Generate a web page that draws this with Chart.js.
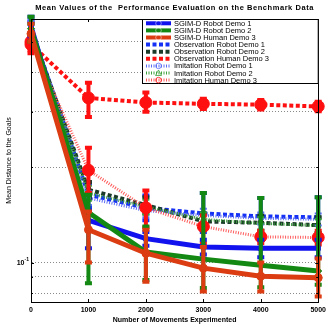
<!DOCTYPE html>
<html>
<head>
<meta charset="utf-8">
<script src="https://cdn.jsdelivr.net/npm/chart.js@4.4.0/dist/chart.umd.min.js"></script>
<style>
  html, body { margin: 0; padding: 0; background: #fff; }
  #wrap { width: 330px; height: 326px; }
</style>
</head>
<body>
<div id="wrap"><canvas id="myChart" width="330" height="326"></canvas></div>
<script>
// x positions (number of movements)
const movements = [0, 1000, 2000, 3000, 4000, 5000];

const seriesNames = [
  "SGIM-D Robot Demo 1", "SGIM-D Robot Demo 2", "SGIM-D Human Demo 3",
  "Observation Robot Demo 1", "Observation Robot Demo 2", "Observation Human Demo 3",
  "Imitation Robot Demo 1", "Imitation Robot Demo 2", "Imitation Human Demo 3"
];

// mean distance to goals, with lower / upper ends of the error bars
const sgimRobot1     = [0.56, 0.136, 0.119, 0.112, 0.111, 0.111];
const sgimRobot1Low  = [0.52, 0.111, 0.113, 0.106, 0.104, 0.104];
const sgimRobot1High = [0.60, 0.146, 0.125, 0.118, 0.118, 0.118];

const sgimRobot2     = [0.55, 0.144, 0.108, 0.1025, 0.098, 0.094];
const sgimRobot2Low  = [0.50, 0.086, 0.088, 0.083, 0.0835, 0.085];
const sgimRobot2High = [0.60, 0.164, 0.130, 0.166, 0.160, 0.161];

const sgimHuman3     = [0.53, 0.127, 0.107, 0.096, 0.0905, 0.0895];
const sgimHuman3Low  = [0.50, 0.100, 0.087, 0.081, 0.081, 0.078];
const sgimHuman3High = [0.57, 0.145, 0.127, 0.112, 0.100, 0.103];

const obsRobot1     = [0.55, 0.164, 0.149, 0.143, 0.140, 0.139];
const obsRobot1Low  = [0.52, 0.150, 0.136, 0.125, 0.123, 0.122];
const obsRobot1High = [0.58, 0.178, 0.163, 0.166, 0.160, 0.161];

const obsRobot2     = [0.54, 0.170, 0.152, 0.135, 0.1336, 0.1313];
const obsRobot2Low  = [0.51, 0.160, 0.143, 0.127, 0.126, 0.124];
const obsRobot2High = [0.57, 0.180, 0.161, 0.143, 0.141, 0.139];

const obsHuman3     = [0.49, 0.332, 0.321, 0.318, 0.316, 0.312];
const obsHuman3Low  = [0.46, 0.289, 0.300, 0.306, 0.305, 0.301];
const obsHuman3High = [0.52, 0.371, 0.345, 0.330, 0.327, 0.323];

const imitRobot1     = [0.55, 0.160, 0.146, 0.141, 0.138, 0.137];
const imitRobot1Low  = [0.52, 0.152, 0.139, 0.134, 0.132, 0.131];
const imitRobot1High = [0.58, 0.168, 0.153, 0.148, 0.144, 0.143];

const imitRobot2     = [0.54, 0.166, 0.150, 0.137, 0.133, 0.131];
const imitRobot2Low  = [0.51, 0.157, 0.142, 0.130, 0.127, 0.125];
const imitRobot2High = [0.57, 0.175, 0.158, 0.144, 0.139, 0.137];

const imitHuman3     = [0.50, 0.196, 0.149, 0.130, 0.1206, 0.120];
const imitHuman3Low  = [0.47, 0.166, 0.129, 0.115, 0.115, 0.114];
const imitHuman3High = [0.53, 0.231, 0.169, 0.141, 0.126, 0.126];

const yGridValues = [0.08, 0.09, 0.1, 0.2, 0.3, 0.4, 0.5];
const xTickValues = [0, 1000, 2000, 3000, 4000, 5000];

// styles only (order: lower = drawn later, on top)
const styles = [
  { color: "#1212ee", width: 5, dash: [], point: "rect", r: 3, ebw: 4, order: 3 },
  { color: "#138813", width: 5, dash: [], point: "rectRot", r: 3.5, ebw: 4, order: 2 },
  { color: "#dc3c12", width: 5, dash: [], point: "circle", r: 4, ebw: 4, order: 1 },
  { color: "#1530f5", width: 4, dash: [4, 2.5], point: "rect", r: 3, ebw: 4, order: 9 },
  { color: "#1b3a29", width: 4, dash: [4, 2.5], point: "rect", r: 3, ebw: 4, order: 8 },
  { color: "#ff1010", width: 4, dash: [4, 2.5], point: "circle", r: 6, ebw: 4, order: 7 },
  { color: "#5a6cf5", width: 3, dash: [1, 1.5], point: "circle", r: 2, ebw: 2, order: 6 },
  { color: "#3fa23f", width: 3, dash: [1, 1.5], point: "triangle", r: 2.5, ebw: 2, order: 5 },
  { color: "#ff5a5a", width: 3, dash: [1, 1.5], point: "circle", r: 6, ebw: 4, order: 4, pointColor: "#ff1010" }
];

const means = [sgimRobot1, sgimRobot2, sgimHuman3, obsRobot1, obsRobot2, obsHuman3, imitRobot1, imitRobot2, imitHuman3];
const lows = [sgimRobot1Low, sgimRobot2Low, sgimHuman3Low, obsRobot1Low, obsRobot2Low, obsHuman3Low, imitRobot1Low, imitRobot2Low, imitHuman3Low];
const highs = [sgimRobot1High, sgimRobot2High, sgimHuman3High, obsRobot1High, obsRobot2High, obsHuman3High, imitRobot1High, imitRobot2High, imitHuman3High];

const datasets = seriesNames.map((name, i) => {
  const s = styles[i];
  return {
    label: name,
    data: movements.map((m, k) => ({ x: m, y: means[i][k] })),
    errLow: lows[i],
    errHigh: highs[i],
    borderColor: s.color,
    backgroundColor: s.pointColor || s.color,
    pointBorderColor: s.pointColor || s.color,
    borderWidth: s.width,
    borderDash: s.dash,
    borderCapStyle: "butt",
    pointStyle: s.point,
    pointRadius: s.r,
    pointBorderWidth: 1,
    ebWidth: s.ebw,
    tension: 0,
    clip: false,
    order: s.order
  };
});

const FONT = "Arial, 'Liberation Sans', sans-serif";

const matlabLook = {
  id: "matlabLook",
  beforeDraw(chart) {
    const c = chart.ctx;
    c.save();
    c.fillStyle = "#fff";
    c.fillRect(0, 0, chart.width, chart.height);
    c.restore();
  },
  afterDatasetDraw(chart, args) {
    // error bars for this series
    const ds = chart.data.datasets[args.index];
    const xs = chart.scales.x, ys = chart.scales.y;
    const c = chart.ctx;
    c.save();
    c.strokeStyle = ds.pointBorderColor;
    c.lineWidth = ds.ebWidth;
    c.setLineDash([]);
    ds.data.forEach((p, k) => {
      const px = xs.getPixelForValue(p.x);
      const y1 = ys.getPixelForValue(ds.errLow[k]);
      const y2 = ys.getPixelForValue(ds.errHigh[k]);
      c.beginPath();
      c.moveTo(px, y1); c.lineTo(px, y2);
      c.moveTo(px - 3.5, y1); c.lineTo(px + 3.5, y1);
      c.moveTo(px - 3.5, y2); c.lineTo(px + 3.5, y2);
      c.stroke();
    });
    c.restore();
  },
  afterDraw(chart) {
    const c = chart.ctx;
    const a = chart.chartArea;
    const xs = chart.scales.x, ys = chart.scales.y;
    c.save();
    // box
    c.strokeStyle = "#000";
    c.lineWidth = 1;
    c.setLineDash([]);
    c.strokeRect(Math.round(a.left) + 0.5, Math.round(a.top) + 0.5, Math.round(a.right - a.left), Math.round(a.bottom - a.top));
    // inward ticks
    c.beginPath();
    xTickValues.forEach(v => {
      const px = Math.round(xs.getPixelForValue(v)) + 0.5;
      c.moveTo(px, a.bottom); c.lineTo(px, a.bottom - 3);
      c.moveTo(px, a.top); c.lineTo(px, a.top + 3);
    });
    yGridValues.forEach(v => {
      const py = Math.round(ys.getPixelForValue(v)) + 0.5;
      const len = v === 0.1 ? 3 : 2;
      c.moveTo(a.left, py); c.lineTo(a.left + len, py);
      c.moveTo(a.right, py); c.lineTo(a.right - len, py);
    });
    c.stroke();

    // y tick label 10^-1
    const py1 = ys.getPixelForValue(0.1);
    c.fillStyle = "#000";
    c.textBaseline = "middle";
    c.textAlign = "right";
    c.font = "bold 7px " + FONT;
    c.fillText("10", 24.5, py1 + 0.5);
    c.textAlign = "left";
    c.font = "bold 5px " + FONT;
    c.fillText("-1", 24.5, py1 - 3);

    // title
    c.textAlign = "center";
    c.font = "bold 7.5px " + FONT;
    c.letterSpacing = "0.55px";
    c.fillText("Mean Values of the  Performance Evaluation on the Benchmark Data", (a.left + a.right) / 2, 8);
    c.letterSpacing = "0px";
    // x title
    c.font = "bold 7px " + FONT;
    c.fillText("Number of Movements Experimented", (a.left + a.right) / 2, 320);
    // y title
    c.save();
    c.translate(9, (a.top + a.bottom) / 2);
    c.rotate(-Math.PI / 2);
    c.font = "7px " + FONT;
    c.fillText("Mean Distance to the Goals", 0, 0);
    c.restore();

    // legend
    const lx = 142.5, ly = 19.5, lw = a.right - 142.5, lh = 64;
    c.fillStyle = "#fff";
    c.fillRect(lx, ly, lw, lh);
    c.strokeStyle = "#000";
    c.lineWidth = 1;
    c.strokeRect(lx, ly, lw, lh);
    c.font = "7.5px " + FONT;
    c.textAlign = "left";
    chart.data.datasets.forEach((ds, i) => {
      const yy = 23.3 + i * 7.1;
      c.save();
      c.strokeStyle = ds.borderColor;
      c.lineWidth = Math.min(ds.borderWidth, 4);
      c.lineCap = "butt";
      c.setLineDash(ds.borderDash);
      c.beginPath();
      c.moveTo(146, yy); c.lineTo(171, yy);
      c.stroke();
      c.setLineDash([]);
      if (i >= 6 || i < 3) {
        c.lineWidth = 0.8;
        c.strokeStyle = i < 3 ? "rgba(255,255,255,0.6)" : ds.pointBorderColor;
        c.beginPath();
        if (i === 7) {
          c.moveTo(158.5, yy - 3); c.lineTo(161.5, yy + 2.5); c.lineTo(155.5, yy + 2.5); c.closePath();
        } else {
          c.arc(158.5, yy, 2.8, 0, Math.PI * 2);
        }
        c.stroke();
      }
      c.restore();
      c.fillStyle = "#000";
      c.fillText(ds.label, 174, yy + 0.5);
    });
    c.restore();
  }
};

const ctx = document.getElementById("myChart").getContext("2d");

const chart1 = new Chart(ctx, {
  type: "line",
  data: { datasets: datasets },
  plugins: [matlabLook],
  options: {
    responsive: false,
    animation: false,
    events: [],
    layout: { padding: { left: 0, right: 7, top: 19, bottom: 0 } },
    plugins: {
      legend: { display: false },
      title: { display: false },
      tooltip: { enabled: false }
    },
    scales: {
      x: {
        type: "linear",
        min: 0,
        max: 5000,
        afterBuildTicks: (scale) => { scale.ticks = xTickValues.map(v => ({ value: v })); },
        afterFit: (scale) => { scale.height = 24; },
        grid: { display: false, drawTicks: false },
        border: { display: true, color: "#000", width: 1 },
        ticks: {
          padding: 4,
          color: "#000",
          font: { family: FONT, size: 7, weight: "bold" },
          maxRotation: 0,
          callback: (v) => String(v)
        }
      },
      y: {
        type: "logarithmic",
        min: 0.075,
        max: 0.59,
        afterBuildTicks: (scale) => { scale.ticks = yGridValues.map(v => ({ value: v })); },
        afterFit: (scale) => { scale.width = 31; },
        grid: { display: true, drawTicks: false, color: "#8a8a8a", lineWidth: 1 },
        border: { display: true, color: "#000", width: 1, dash: [1, 2] },
        ticks: { display: false }
      }
    }
  }
});
</script>
</body>
</html>
